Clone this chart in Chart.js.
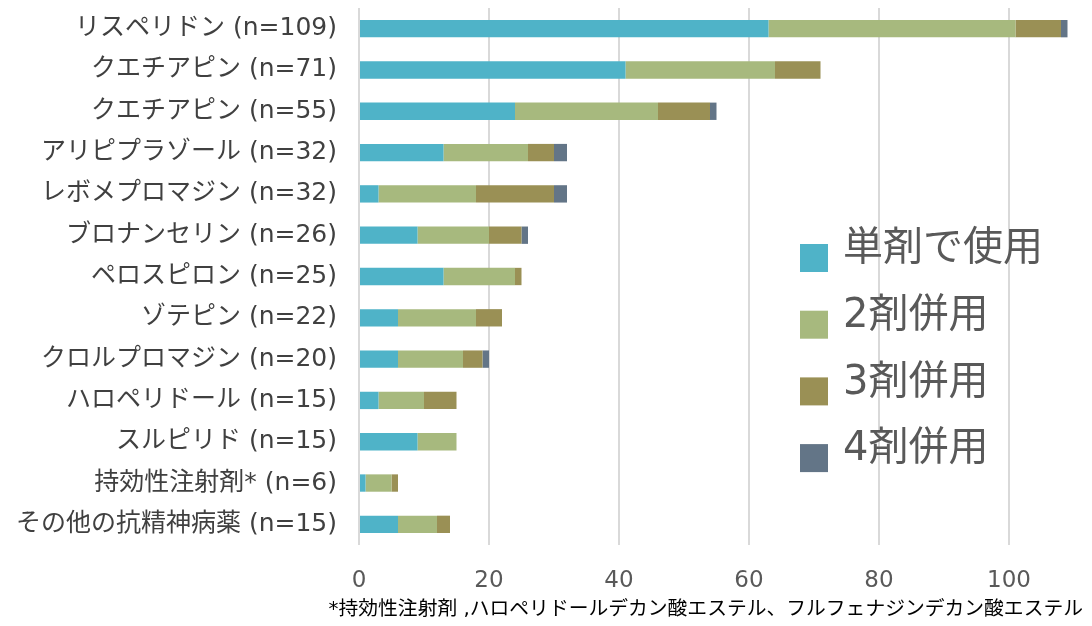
<!DOCTYPE html>
<html>
<head>
<meta charset="utf-8">
<script src="https://cdn.jsdelivr.net/npm/chart.js@4/dist/chart.umd.min.js"></script>
<style>
  html, body { margin: 0; padding: 0; background: #fff; }
  #wrap { width: 1092px; height: 626px; }
</style>
</head>
<body>
<div id="wrap"><canvas id="myChart"></canvas></div>
<script>
// drug names (top to bottom)
var drugs = [
  "リスペリドン (n=109)",
  "クエチアピン (n=71)",
  "クエチアピン (n=55)",
  "アリピプラゾール (n=32)",
  "レボメプロマジン (n=32)",
  "ブロナンセリン (n=26)",
  "ペロスピロン (n=25)",
  "ゾテピン (n=22)",
  "クロルプロマジン (n=20)",
  "ハロペリドール (n=15)",
  "スルピリド (n=15)",
  "持効性注射剤* (n=6)",
  "その他の抗精神病薬 (n=15)"
];
var single = [63, 41, 24, 13, 3, 9, 13, 6, 6, 3, 9, 1, 6];
var two    = [38, 23, 22, 13, 15, 11, 11, 12, 10, 7, 6, 4, 6];
var three  = [7, 7, 8, 4, 12, 5, 1, 4, 3, 5, 0, 1, 2];
var four   = [1, 0, 1, 2, 2, 1, 0, 0, 1, 0, 0, 0, 0];
var seriesNames = ["単剤で使用", "2剤併用", "3剤併用", "4剤併用"];
var xTicks = [0, 20, 40, 60, 80, 100];
var footnote = "*持効性注射剤 ,ハロペリドールデカン酸エステル、フルフェナジンデカン酸エステル";

var colors = ["#4FB3C8", "#A7B97E", "#9A9055", "#637587"];
var fontFam = "'DejaVu Sans', 'Noto Sans CJK JP', sans-serif";

// legend inside the plot on the right + footnote under the axis
var extras = {
  id: "extras",
  afterDraw: function(chart) {
    var ctx = chart.ctx;
    var area = chart.chartArea;
    ctx.save();
    chart.data.datasets.forEach(function(ds, i) {
      var y = area.top + 242 + i * 66.7;
      ctx.fillStyle = ds.backgroundColor;
      ctx.fillRect(area.left + 441, y - 6, 28, 28);
      ctx.fillStyle = "#595959";
      ctx.font = "40px " + fontFam;
      ctx.textBaseline = "middle";
      ctx.textAlign = "left";
      ctx.fillText(ds.label, area.left + 484, y);
    });
    ctx.fillStyle = "#000";
    ctx.font = "19.8px " + fontFam;
    ctx.textAlign = "right";
    ctx.textBaseline = "middle";
    ctx.fillText(footnote, chart.width - 9, chart.height - 16);
    ctx.restore();
  }
};

var ctx = document.getElementById("myChart").getContext("2d");
var myChart = new Chart(ctx, {
  type: "bar",
  data: {
    labels: drugs,
    datasets: [
      { label: seriesNames[0], data: single, backgroundColor: colors[0] },
      { label: seriesNames[1], data: two, backgroundColor: colors[1] },
      { label: seriesNames[2], data: three, backgroundColor: colors[2] },
      { label: seriesNames[3], data: four, backgroundColor: colors[3] }
    ]
  },
  options: {
    indexAxis: "y",
    responsive: true,
    maintainAspectRatio: false,
    animation: false,
    datasets: {
      bar: { barPercentage: 0.42, categoryPercentage: 1.0, borderWidth: 0 }
    },
    layout: { padding: { top: 8, right: 18, left: 0, bottom: 0 } },
    plugins: {
      legend: { display: false },
      tooltip: { enabled: false }
    },
    scales: {
      x: {
        stacked: true,
        min: 0,
        max: 110,
        afterBuildTicks: function(scale) {
          scale.ticks = xTicks.map(function(v) { return { value: v }; });
        },
        grid: { color: "#d9d9d9", lineWidth: 2, drawTicks: false },
        border: { display: false },
        ticks: {
          color: "#595959",
          font: { size: 23, family: fontFam },
          padding: 22,
          maxRotation: 0
        },
        afterFit: function(scale) {
          scale.height = 81;
          scale.paddingLeft = 0;
          scale.paddingRight = 0;
        }
      },
      y: {
        stacked: true,
        grid: { display: false, drawTicks: false },
        border: { display: false },
        ticks: {
          color: "#404040",
          font: { size: 25, family: fontFam },
          padding: 22,
          autoSkip: false
        },
        afterFit: function(scale) {
          scale.width = 359;
          scale.paddingTop = 0;
          scale.paddingBottom = 0;
        }
      }
    }
  },
  plugins: [extras]
});
</script>
</body>
</html>
